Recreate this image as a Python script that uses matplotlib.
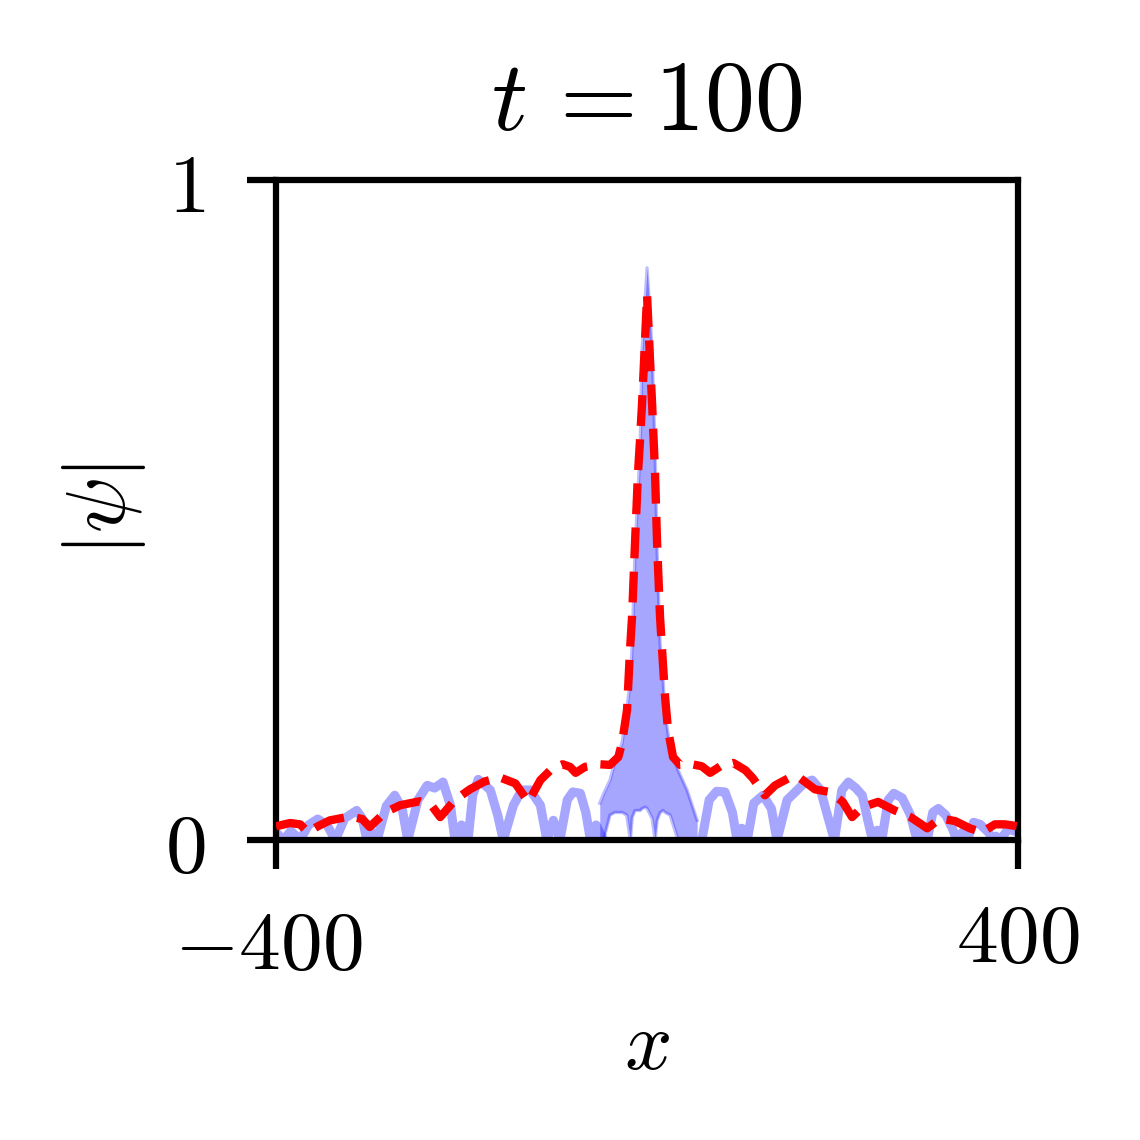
import matplotlib
matplotlib.use("Agg")
import matplotlib.pyplot as plt
from matplotlib.transforms import ScaledTranslation

plt.rcParams["mathtext.fontset"] = "cm"
plt.rcParams["font.family"] = "serif"

# |psi|: red dashed curve
red_x = [-400, -385, -374, -365.5, -355, -342, -320, -307, -299, -282.5, -266, -245, -232, -223,
         -207, -191, -175, -158.5, -142, -128, -115, -102, -91, -83, -77, -67, -51, -40, -31,
         -27, -21.6, -18.4, -16.2, -13, -9.8, -7.6, -5.4, -3.2, -1.1, 0, 1.1, 3.2, 5.4, 8.6,
         10.8, 14, 16.2, 19.4, 22.6, 28, 35.6, 48.5, 59, 68, 79, 93, 106, 114, 127, 138, 154,
         165, 181, 197, 211, 221, 232, 249, 267, 284, 302, 316, 332, 348, 361, 375, 386, 400]
red_y = [0.021, 0.026, 0.024, 0.012, 0.021, 0.030, 0.036, 0.032, 0.020, 0.042, 0.053, 0.059, 0.052, 0.035,
         0.061, 0.077, 0.089, 0.095, 0.086, 0.058, 0.091, 0.109, 0.115, 0.111, 0.102, 0.111, 0.115, 0.114, 0.126,
         0.147, 0.197, 0.288, 0.338, 0.450, 0.556, 0.606, 0.662, 0.727, 0.791, 0.826, 0.791, 0.727, 0.662, 0.556,
         0.450, 0.338, 0.288, 0.217, 0.167, 0.126, 0.114, 0.115, 0.112, 0.102, 0.112, 0.117, 0.106, 0.094, 0.068, 0.083, 0.095,
         0.094, 0.077, 0.073, 0.058, 0.035, 0.050, 0.058, 0.045, 0.035, 0.018, 0.033, 0.029, 0.018, 0.012, 0.024, 0.024, 0.021]

# blue curve, left side arches
blue_left_x = [-400, -392, -384, -374, -365, -355, -345, -336, -326, -313, -307, -302, -296, -291,
               -281, -272, -264, -258, -247, -237, -229, -220, -212, -207, -200, -193,
               -188, -182, -169, -161, -155, -144, -135, -126, -115, -108, -101, -94,
               -86, -80, -72, -66, -61, -55, -47]
blue_left_y = [0.012, 0, 0.014, 0, 0.023, 0.032, 0.023, 0, 0.033, 0.045, 0.033, 0, 0.012, 0,
               0.052, 0.068, 0.048, 0, 0.061, 0.083, 0.079, 0.088, 0.053, 0, 0.023, 0,
               0.068, 0.092, 0.076, 0.038, 0, 0.053, 0.076, 0.076, 0.053, 0, 0.030, 0,
               0.061, 0.073, 0.071, 0.042, 0, 0.023, 0]

# blue curve, right side arches
blue_right_x = [59, 67, 75, 84, 92, 97, 102, 108, 115, 125, 134, 140, 151, 162, 169, 178, 187, 193,
                202, 210, 217, 225, 232, 238, 243, 248, 253, 260, 266, 275, 284, 291, 297, 302,
                308, 314, 322, 329, 334, 340, 345, 352, 359, 368, 373, 376, 381, 389, 400]
blue_right_y = [0, 0.061, 0.074, 0.073, 0.042, 0, 0.018, 0, 0.056, 0.068, 0.048, 0, 0.061, 0.076, 0.086, 0.091, 0.076, 0.045,
                0, 0.076, 0.088, 0.079, 0.068, 0.030, 0, 0.015, 0, 0.061, 0.071, 0.064, 0.038, 0, 0.015, 0,
                0.042, 0.048, 0.038, 0.018, 0, 0.012, 0, 0.027, 0.024, 0.012, 0, 0.006, 0, 0.017, 0.012]

# blue central band (fast oscillation between lower and upper envelope)
band_x = [-51, -47, -40, -35, -27, -22, -18, -16, -13, -7.5, -5.4, -2.1, 0, 2.2, 5.4, 8.6,
          10.8, 14, 17.3, 19.4, 24.8, 33.4, 43.1, 54]
band_upper = [0.056, 0.07, 0.091, 0.117, 0.147, 0.197, 0.242, 0.298, 0.439, 0.591, 0.742, 0.818, 0.867,
              0.818, 0.742, 0.591, 0.439, 0.298, 0.242, 0.191, 0.141, 0.106, 0.076, 0.030]
band_lower = [0, 0, 0.038, 0.042, 0.042, 0.038, 0, 0.035, 0.045, 0.045, 0.048, 0.05, 0.048, 0.042, 0.033, 0,
              0.03, 0.042, 0.045, 0.042, 0.038, 0, 0, 0]

fig = plt.figure(figsize=(3.8, 3.8), dpi=300, facecolor="white")
ax = fig.add_axes([0.2421, 0.263, 0.651, 0.579])

ax.plot(blue_left_x, blue_left_y, color="blue", alpha=0.35, lw=2.2)
ax.plot(blue_right_x, blue_right_y, color="blue", alpha=0.35, lw=2.2)
ax.fill_between(band_x, band_lower, band_upper, color="blue", alpha=0.35, lw=0)
ax.plot(band_x, band_upper, color="blue", alpha=0.25, lw=0.8)
ax.plot(band_x, band_lower, color="blue", alpha=0.25, lw=0.8)
ax.plot(red_x, red_y, color="red", lw=2, ls="--", zorder=3)

ax.set_xlim(-400, 400)
ax.set_ylim(0, 1)
ax.set_xticks([-400, 400])
ax.set_xticklabels(["$-400$", "$400$"])
ax.set_yticks([0, 1])
ax.set_yticklabels(["$0$", "$1$"])
ax.tick_params(axis="both", length=7, width=1.5, labelsize=20)
ax.tick_params(axis="x", pad=7)
ax.tick_params(axis="y", pad=10)
for s in ax.spines.values():
    s.set_linewidth(1.5)

# the minus label sits a little lower and further left in the original
lbl = ax.get_xticklabels()[0]
lbl.set_transform(lbl.get_transform() + ScaledTranslation(-8 / 300, -7 / 300, fig.dpi_scale_trans))

ax.set_xlabel("$x$", fontsize=20, labelpad=5)
ax.set_ylabel(r"$|\psi|$", fontsize=20, labelpad=4)
ax.set_title(r"$t\,=100$", fontsize=24, pad=12)

fig.savefig("out.png", dpi=300)
